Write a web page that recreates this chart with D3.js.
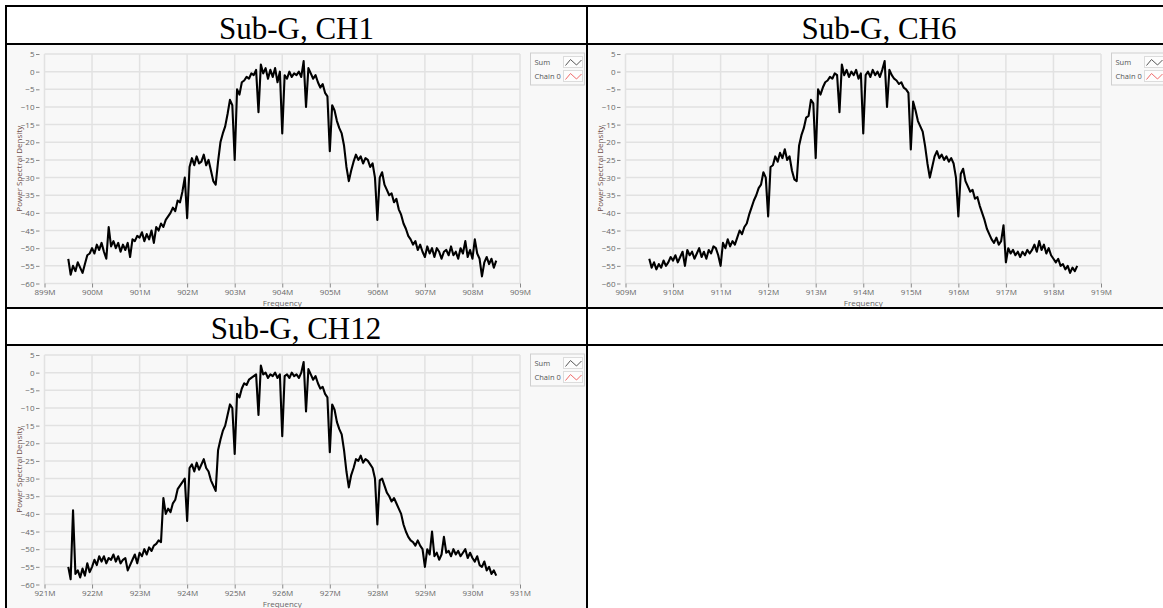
<!DOCTYPE html>
<html>
<head>
<meta charset="utf-8">
<script src="https://cdn.jsdelivr.net/npm/d3@7"></script>
<style>
  body { margin: 0; background: #fff; }
  svg { display: block; }
  .tick text { font-family: "Open Sans", sans-serif; font-size: 8px; fill: #666; }
  .tick line { stroke: #888; }
</style>
</head>
<body>
<div id="chart"></div>
<script>
// ---- data ----
var titles = ["Sub-G, CH1", "Sub-G, CH6", "Sub-G, CH12"];
var startMHz = [899.5, 909.5, 921.5];   // first sample of each trace
var stepMHz = 0.05;                      // sample spacing
var axisMinMHz = [899, 909, 921];        // left end of each x axis
var yTicks = [5, 0, -5, -10, -15, -20, -25, -30, -35, -40, -45, -50, -55, -60];
var legendLabels = ["Sum", "Chain 0"];
var legendColors = ["#555", "#f06a6a"];

var psdCH1 = [
  -53, -57.5, -55, -56.5, -54, -55.5, -57, -54.5, -52, -51.5,
  -50, -51.5, -49, -50.5, -48.5, -51, -53, -44, -49.5, -48,
  -50, -48.5, -51, -49, -50.5, -48.5, -52.5, -47.5, -48, -46.5,
  -47, -45.5, -48, -46, -47.5, -45, -48.5, -44, -45, -43,
  -44, -42, -41, -40, -38.5, -39.5, -36.5, -37, -34, -30,
  -41.5, -27, -24.5, -26.5, -24, -26, -25.5, -23.5, -26.5, -25,
  -28, -31, -32, -25.5, -20, -17.5, -15.5, -12, -8, -9.5,
  -25, -5, -6.5, -3, -2.5, -1.5, -2, -0.5, -1, 0.5,
  -11.5, 2, -0.5, 1, -2, 0.5, -1.5, 1, -3, 0,
  -17.5, -1, -2, 0, -1.5, -0.5, -1, 0, -1.5, 3,
  -10, 1, -0.5, -2, -1, -3, -4.5, -3.5, -6, -7,
  -22.5, -9.5, -11, -14, -16, -17.5, -21, -27, -31, -28,
  -25.5, -23.5, -25, -24, -26, -24.5, -25, -27, -26, -30,
  -42, -30, -28.5, -32, -33.5, -35, -34.5, -37, -36, -39,
  -40.5, -43, -44.5, -46.5, -47.5, -49, -48, -50.5, -49, -51,
  -52.5, -49.5, -51.5, -50, -52.5, -50, -51, -53, -51, -50.5,
  -52, -49.5, -52, -51, -53, -50, -51.5, -48, -52.5, -50.5,
  -53, -47.5, -51.5, -53, -58, -54, -52.5, -54.5, -53, -55.5,
  -53.5
];

var psdCH6 = [
  -53, -55.5, -54, -56, -54.5, -55.5, -53.5, -55, -54, -52.5,
  -53.5, -52, -54, -52.5, -51, -55, -50.5, -52, -51, -53,
  -51.5, -50, -52.5, -51, -53, -50.5, -51.5, -49.5, -50, -52,
  -55, -48.5, -50, -47.5, -49.5, -48, -49, -47, -45, -46,
  -44, -43, -40.5, -38.5, -36.5, -35, -33, -32, -28.5, -30,
  -41, -27, -26.5, -24, -25.5, -23, -24.5, -22, -25, -24,
  -28, -30.5, -31, -21, -18, -16, -13, -12.5, -8, -9,
  -24.5, -5, -6.5, -4.5, -3, -2.5, -1.5, -2, -0.5, -1,
  -11.5, 2, -1, 0.5, -1.5, 0, -1, 0.5, -2, -0.5,
  -17.5, -1, 0, -1.5, 0.5, -1, 0, -1.5, 0.5, 3,
  -10, 0.5, -1, -2, -2.5, -3.5, -3, -4.5, -5, -6,
  -22, -8.5, -11, -14, -15.5, -17, -21, -26, -30, -27,
  -24, -22.5, -24.5, -23.5, -25, -24, -25.5, -24.5, -26, -30,
  -41, -29, -27.5, -31, -32.5, -34, -33.5, -36, -35.5, -38,
  -40, -42, -44.5, -46, -47.5, -48.5, -47, -49, -48, -43.5,
  -54, -50, -51.5, -50.5, -52, -51, -52.5, -51, -52, -50.5,
  -51.5, -50.5, -49, -51, -48, -50.5, -49, -51.5, -50, -52,
  -53, -54, -53, -55, -54.5, -56, -55, -57, -55.5, -56.5,
  -55
];

var psdCH12 = [
  -55, -58.5, -39, -57, -56, -58, -55.5, -57.5, -54, -56.5,
  -55, -53, -54.5, -52, -53.5, -52, -54, -52.5, -53, -51.5,
  -53.5, -52, -54, -53, -52.5, -56, -54.5, -53, -51.5, -54,
  -51, -52, -50, -51.5, -49.5, -50.5, -49, -48.5, -47.5, -48,
  -35.5, -40, -38.5, -39.5, -37, -36, -33, -32, -31, -30,
  -42, -27, -26, -28, -25.5, -27.5, -26, -24.5, -27, -28,
  -30.5, -32, -33.5, -22, -19, -16.5, -15, -12, -9, -10,
  -23, -6, -7, -4.5, -3, -3.5, -2, -1.5, -1, -0.5,
  -12, 2, -0.5, 0, -1.5, -0.5, -1, 0, -1.5, -0.5,
  -18, -1, -0.5, -1.5, 0, -1, -0.5, -1.5, 0, 3,
  -11, 1, -0.5, -2, -1, -3, -4.5, -4, -6, -7,
  -22.5, -9, -10.5, -14, -16, -17.5, -22, -28, -32.5, -29,
  -27, -24.5, -25, -23.5, -25.5, -24.5, -25, -26, -27, -30,
  -43, -30.5, -30, -32, -34, -35, -36.5, -35.5, -37, -38.5,
  -40, -43, -45, -46.5, -47.5, -48, -49, -47.5, -49, -50,
  -55, -50, -51.5, -45, -52, -51, -53, -51.5, -46.5, -51,
  -50.5, -52, -50, -51.5, -50.5, -52, -51, -50, -52.5, -51,
  -52.5, -53.5, -52, -54.5, -55, -53.5, -56, -55, -57, -56,
  -57.5
];

var traces = [psdCH1, psdCH6, psdCH12];

// ---- page layout (table of cells) ----
var W = 1163, H = 608;
var svg = d3.select("#chart").append("svg")
    .attr("width", W)
    .attr("height", H);

// chart cell origins: [x, y] of top-left corner
var cellOrigins = [[6, 44], [587, 44], [6, 345]];
var titlePos = [[296.5, 39], [879, 39], [296, 339]];
var cellW = 581, cellH = 264;

// chart cell backgrounds
cellOrigins.forEach(function(o) {
  svg.append("rect")
    .attr("x", o[0]).attr("y", o[1])
    .attr("width", cellW).attr("height", cellH)
    .attr("fill", "#f8f8f8");
});

// titles
titles.forEach(function(t, i) {
  svg.append("text")
    .attr("x", titlePos[i][0])
    .attr("y", titlePos[i][1])
    .attr("text-anchor", "middle")
    .attr("font-family", "Liberation Serif, Times New Roman, serif")
    .attr("font-size", "31px")
    .attr("fill", "#000")
    .text(t);
});

// ---- one spectrum chart ----
function drawChart(k) {
  var o = cellOrigins[k];
  var g = svg.append("g").attr("transform", "translate(" + o[0] + "," + o[1] + ")");
  var x0 = axisMinMHz[k];
  var xTicks = d3.range(x0, x0 + 11);

  var x = d3.scaleLinear().domain([x0, x0 + 10]).range([38.5, 514]);
  var y = d3.scaleLinear().domain([-60, 5]).range([239.5, 10]);

  // grid
  g.selectAll(".hgrid").data(yTicks).enter().append("line")
    .attr("x1", x(x0)).attr("x2", x(x0 + 10))
    .attr("y1", function(d) { return y(d); })
    .attr("y2", function(d) { return y(d); })
    .attr("stroke", "#e2e2e2").attr("stroke-width", 1.5);
  g.selectAll(".vgrid").data(xTicks).enter().append("line")
    .attr("x1", function(d) { return x(d); })
    .attr("x2", function(d) { return x(d); })
    .attr("y1", y(5)).attr("y2", y(-60))
    .attr("stroke", "#e2e2e2").attr("stroke-width", 1.5);

  // axes
  var yAxis = d3.axisLeft(y).tickValues(yTicks).tickSize(3.5).tickPadding(1.5);
  g.append("g").attr("transform", "translate(33.5,0)").call(yAxis)
    .call(function(s) { s.select(".domain").remove(); });

  var xAxis = d3.axisBottom(x).tickValues(xTicks).tickSize(4).tickPadding(2)
    .tickFormat(function(d) { return d + "M"; });
  g.append("g").attr("transform", "translate(0," + y(-60) + ")").call(xAxis)
    .call(function(s) { s.select(".domain").remove(); });

  g.append("text")
    .attr("x", x(x0 + 5)).attr("y", 262)
    .attr("text-anchor", "middle")
    .attr("font-family", "Open Sans, sans-serif")
    .attr("font-size", "8px").attr("fill", "#666")
    .text("Frequency");

  g.append("text")
    .attr("transform", "translate(15.5," + (y(5) + y(-60)) / 2 + ") rotate(-90)")
    .attr("text-anchor", "middle")
    .attr("font-family", "Open Sans, sans-serif")
    .attr("font-size", "8px").attr("fill", "#6e4c47")
    .text("Power Spectral Density");

  // trace
  var line = d3.line()
    .x(function(d, i) { return x(startMHz[k] + i * stepMHz); })
    .y(function(d) { return y(d); });
  g.append("path")
    .datum(traces[k])
    .attr("d", line)
    .attr("fill", "none")
    .attr("stroke", "#000")
    .attr("stroke-width", 2.1)
    .attr("stroke-linejoin", "round");

  // legend
  var lg = g.append("g").attr("transform", "translate(524.5,9)");
  lg.append("rect").attr("width", 54).attr("height", 32)
    .attr("fill", "#f9f9f9").attr("stroke", "#cfcfcf");
  legendLabels.forEach(function(lab, i) {
    lg.append("text")
      .attr("x", 4).attr("y", 12 + i * 14)
      .attr("font-family", "Open Sans, sans-serif")
      .attr("font-size", "7.5px").attr("fill", "#555")
      .text(lab);
    lg.append("rect")
      .attr("x", 33).attr("y", 3.5 + i * 14)
      .attr("width", 19).attr("height", 11)
      .attr("fill", "#fdfdfd").attr("stroke", "#dcdcdc");
    lg.append("polyline")
      .attr("points", [[35, 12.5], [40, 6.5], [46, 12], [51, 7]].map(function(p) {
        return p[0] + "," + (p[1] + i * 14);
      }).join(" "))
      .attr("fill", "none")
      .attr("stroke", legendColors[i])
      .attr("stroke-width", 1);
  });
}

[0, 1, 2].forEach(drawChart);

// ---- table rules ----
var hRules = [6, 44, 308, 345];
var vRules = [6, 587];
svg.selectAll(".hr").data(hRules).enter().append("line")
  .attr("x1", 5).attr("x2", W)
  .attr("y1", function(d) { return d; }).attr("y2", function(d) { return d; })
  .attr("stroke", "#000").attr("stroke-width", 2);
svg.selectAll(".vr").data(vRules).enter().append("line")
  .attr("y1", 5).attr("y2", H)
  .attr("x1", function(d) { return d; }).attr("x2", function(d) { return d; })
  .attr("stroke", "#000").attr("stroke-width", 2);
</script>
</body>
</html>
